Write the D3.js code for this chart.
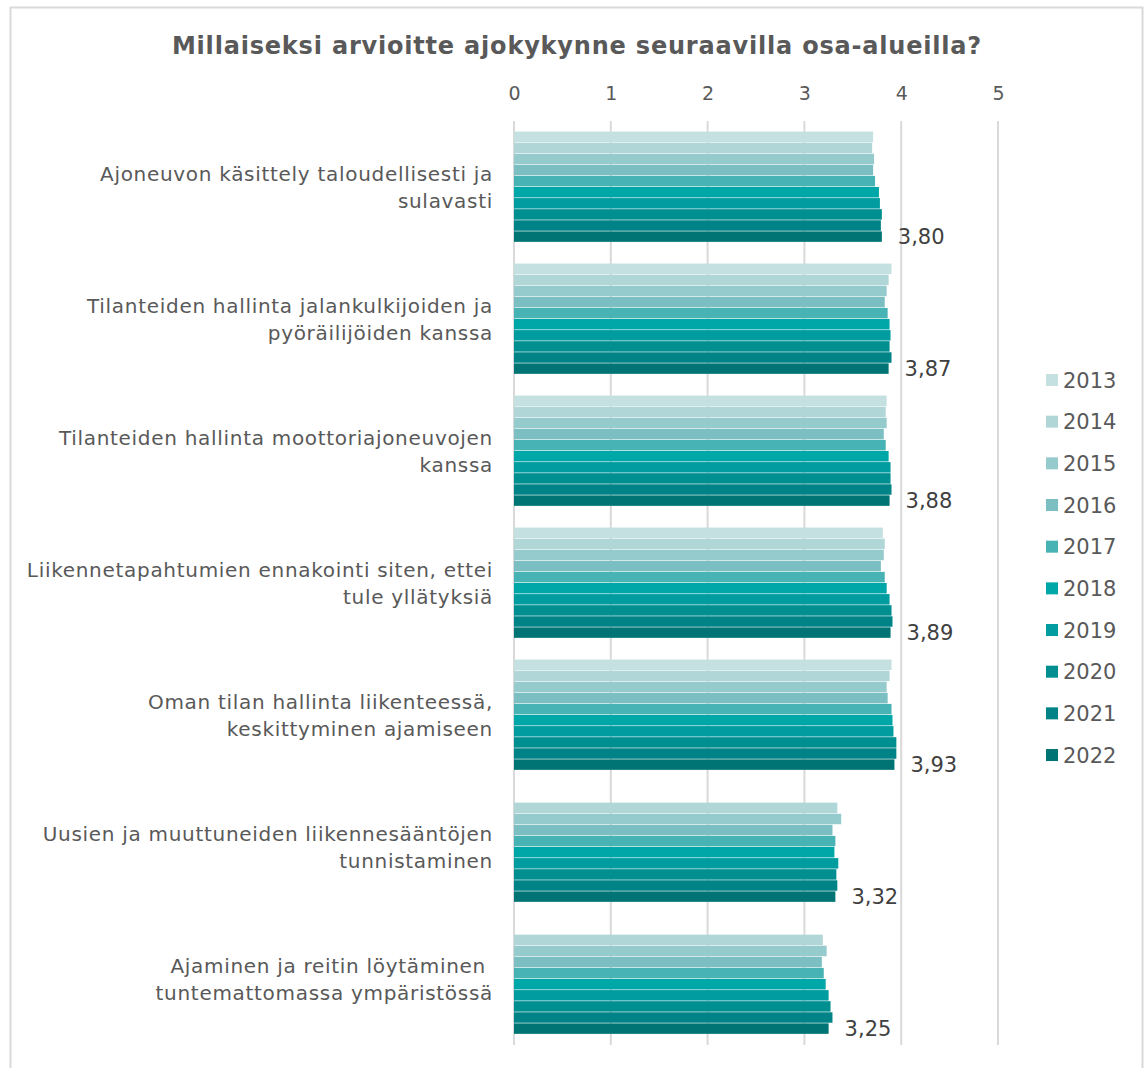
<!DOCTYPE html>
<html>
<head>
<meta charset="utf-8">
<script src="https://cdn.jsdelivr.net/npm/d3@7/dist/d3.min.js"></script>
<style>
  html, body { margin: 0; padding: 0; background: #ffffff; }
  svg { display: block; font-family: "DejaVu Sans", Verdana, sans-serif; }
</style>
</head>
<body>
<svg id="chart" width="1147" height="1068"></svg>
<script>
// Survey areas (each label split into its display lines)
const categories = [
  ["Ajoneuvon käsittely taloudellisesti ja", "sulavasti"],
  ["Tilanteiden hallinta jalankulkijoiden ja", "pyöräilijöiden kanssa"],
  ["Tilanteiden hallinta moottoriajoneuvojen", "kanssa"],
  ["Liikennetapahtumien ennakointi siten, ettei", "tule yllätyksiä"],
  ["Oman tilan hallinta liikenteessä,", "keskittyminen ajamiseen"],
  ["Uusien ja muuttuneiden liikennesääntöjen", "tunnistaminen"],
  ["Ajaminen ja reitin löytäminen ", "tuntemattomassa ympäristössä"]
];

const years = ["2013", "2014", "2015", "2016", "2017", "2018", "2019", "2020", "2021", "2022"];

// Mean scores per year (one value per survey area, null = not asked that year)
const v2013 = [3.71, 3.90, 3.85, 3.81, 3.90, null, null];
const v2014 = [3.70, 3.87, 3.84, 3.83, 3.88, 3.34, 3.19];
const v2015 = [3.72, 3.85, 3.85, 3.82, 3.85, 3.38, 3.23];
const v2016 = [3.71, 3.83, 3.82, 3.79, 3.86, 3.29, 3.18];
const v2017 = [3.73, 3.86, 3.84, 3.83, 3.90, 3.32, 3.20];
const v2018 = [3.77, 3.88, 3.87, 3.85, 3.91, 3.31, 3.22];
const v2019 = [3.78, 3.89, 3.89, 3.88, 3.92, 3.35, 3.25];
const v2020 = [3.80, 3.88, 3.89, 3.90, 3.95, 3.33, 3.27];
const v2021 = [3.79, 3.90, 3.90, 3.91, 3.95, 3.34, 3.29];
const v2022 = [3.80, 3.87, 3.88, 3.89, 3.93, 3.32, 3.25];
const seriesValues = [v2013, v2014, v2015, v2016, v2017, v2018, v2019, v2020, v2021, v2022];

const xTicks = [0, 1, 2, 3, 4, 5];

const colors = ["#c5e0e1", "#b1d6d7", "#95cbcd", "#7bbfc2", "#48b3b5",
                "#00a7a9", "#009c9f", "#008f91", "#008386", "#007375"];

const titleText = "Millaiseksi arvioitte ajokykynne seuraavilla osa-alueilla?";

const svg = d3.select("#chart");
const textColor = "#595959";

// Outer chart frame
svg.append("rect")
  .attr("x", 10.5).attr("y", 7.5)
  .attr("width", 1132).attr("height", 1080)
  .attr("fill", "#ffffff")
  .attr("stroke", "#d9d9d9").attr("stroke-width", 2);

// Title
svg.append("text")
  .attr("x", 577).attr("y", 54)
  .attr("text-anchor", "middle")
  .attr("font-size", 24).attr("font-weight", "bold")
  .attr("letter-spacing", 0.8)
  .attr("fill", textColor)
  .text(titleText);

const plotTop = 121, plotBottom = 1045;
const x = d3.scaleLinear().domain([0, 5]).range([514, 998]);
const y = d3.scaleBand()
  .domain(d3.range(categories.length))
  .range([plotTop, plotBottom])
  .paddingInner(0.16).paddingOuter(0.08);
const ySub = d3.scaleBand().domain(years).range([0, y.bandwidth()]);

// Vertical gridlines
svg.append("g").selectAll("line").data(xTicks).join("line")
  .attr("x1", d => x(d)).attr("x2", d => x(d))
  .attr("y1", plotTop).attr("y2", plotBottom)
  .attr("stroke", "#d9d9d9").attr("stroke-width", 2);

// Top axis labels
const axis = d3.axisTop(x).tickValues(xTicks).tickFormat(d3.format("d"))
  .tickSize(0).tickPadding(0);
const gAxis = svg.append("g").attr("transform", "translate(0,100)").call(axis);
gAxis.select(".domain").remove();
gAxis.selectAll("text")
  .attr("font-size", 19).attr("fill", textColor)
  .attr("font-family", "DejaVu Sans, Verdana, sans-serif");

// Bars
const groups = svg.append("g").selectAll("g").data(categories).join("g")
  .attr("transform", (d, i) => `translate(0,${y(i)})`);

groups.each(function (cat, ci) {
  const g = d3.select(this);
  years.forEach((yr, si) => {
    const v = seriesValues[si][ci];
    if (v == null) return;
    g.append("rect")
      .attr("x", x(0))
      .attr("y", ySub(yr))
      .attr("width", x(v) - x(0))
      .attr("height", ySub.bandwidth() - 0.6)
      .attr("fill", colors[si]);
  });
  // Value label for the latest year
  const last = seriesValues[seriesValues.length - 1][ci];
  g.append("text")
    .attr("x", x(last) + 16)
    .attr("y", ySub(years[years.length - 1]) + ySub.bandwidth() / 2)
    .attr("dy", "0.36em")
    .attr("font-size", 21).attr("fill", "#404040")
    .text(d3.format(".2f")(last).replace(".", ","));
  // Category label
  const lh = 27;
  const cy = y.bandwidth() / 2;
  const t = g.append("text")
    .attr("text-anchor", "end")
    .attr("font-size", 20).attr("letter-spacing", 0.7)
    .attr("fill", textColor);
  cat.forEach((line, li) => {
    t.append("tspan")
      .attr("x", 493)
      .attr("y", cy + (li - (cat.length - 1) / 2) * lh)
      .attr("dy", "0.36em")
      .attr("xml:space", "preserve")
      .text(line);
  });
});

// Legend
const legend = svg.append("g").selectAll("g").data(years).join("g")
  .attr("transform", (d, i) => `translate(1046,${380 + i * 41.67})`);
legend.append("rect")
  .attr("x", 0).attr("y", -6).attr("width", 12).attr("height", 12)
  .attr("fill", (d, i) => colors[i]);
legend.append("text")
  .attr("x", 17).attr("y", 0).attr("dy", "0.36em")
  .attr("font-size", 21).attr("fill", textColor)
  .text(d => d);
</script>
</body>
</html>
